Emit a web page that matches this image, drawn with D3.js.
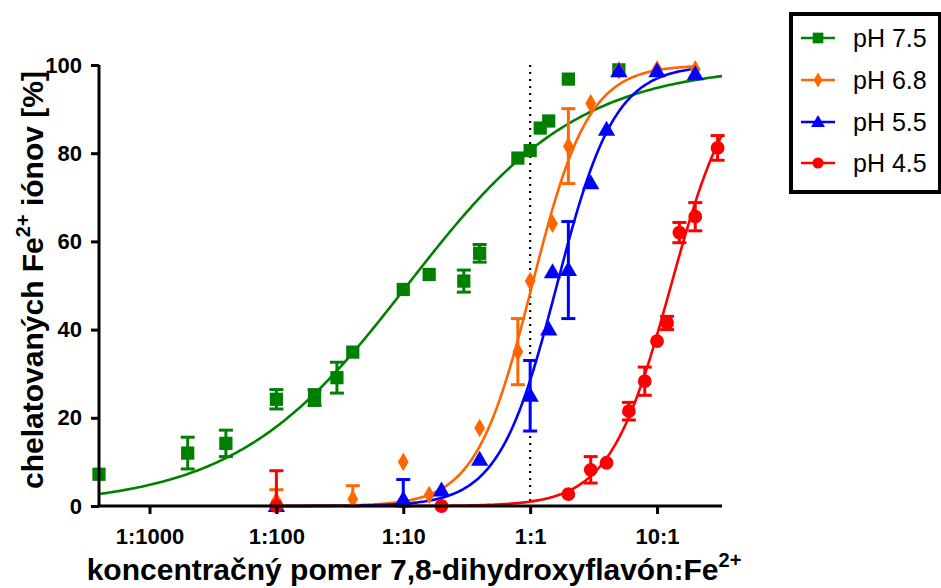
<!DOCTYPE html>
<html><head><meta charset="utf-8">
<script src="https://cdn.jsdelivr.net/npm/d3@7"></script>
<style>
html,body{margin:0;padding:0;background:#fff;}
svg{display:block;font-family:"Liberation Sans",Arial,sans-serif;}
</style></head>
<body>
<svg id="chart" width="941" height="588"></svg>
<script>
// ---- data ----
const seriesNames = ["pH 7.5", "pH 6.8", "pH 5.5", "pH 4.5"];
const seriesColors = ["#008000", "#FF6600", "#0000FF", "#FF0000"];
const seriesSymbols = ["square", "diamond", "triangle", "circle"];

// [ratio, mean %, error]
const ph75 = [
  [0.0004, 7.2, 0], [0.002, 12, 3.6], [0.004, 14.2, 3], [0.01, 24.2, 2.2],
  [0.02, 24.6, 1.8], [0.03, 29.1, 3.5], [0.04, 34.9, 0], [0.1, 49.1, 0],
  [0.16, 52.5, 0], [0.3, 51, 2.5], [0.4, 57.3, 2], [0.8, 78.9, 0],
  [1, 80.6, 0], [1.2, 85.7, 0], [1.4, 87.3, 0], [2, 96.8, 0], [5, 98.9, 0]
];
const ph68 = [
  [0.01, 1.2, 2.5], [0.04, 1.6, 3], [0.1, 10, 0], [0.16, 2.5, 0],
  [0.4, 17.7, 0], [0.8, 35, 7.5], [1, 51, 0], [1.5, 64, 0],
  [2, 81.6, 8.5], [3, 91.3, 0], [5, 98.8, 0], [10, 99, 0], [20, 99, 0]
];
const ph55 = [
  [0.01, 0, 0], [0.1, 1.5, 4.5], [0.2, 3.5, 0], [0.4, 10.5, 0],
  [1, 25, 8], [1.4, 40, 0], [1.5, 53, 0], [2, 53.5, 11],
  [3, 73.2, 0], [4, 85.3, 0], [5, 98.6, 0], [10, 98.6, 0], [20, 97.9, 0]
];
const ph45 = [
  [0.01, 0, 8], [0.2, 0, 0], [2, 2.7, 0], [3, 8.2, 3], [4, 9.8, 0],
  [6, 21.5, 2], [8, 28.3, 3.2], [10, 37.4, 0], [12, 41.5, 1.5],
  [15, 62, 2.3], [20, 65.6, 3.2], [30, 81.2, 2.8]
];
const seriesData = [ph75, ph68, ph55, ph45];

// fitted dose-response (Hill) parameters
const fitLogEC50 = [-0.97, 0.015, 0.21, 1.11];
const fitHill = [0.64, 1.95, 1.9, 1.8];
const fitBottom = [0, 0, 0, 0];
const fitTop = [100, 100, 100, 100];
const fitXStart = [0.0004, 0.01, 0.01, 0.01];
const fitXEnd = [32.5, 20, 20, 32.5];

const xTickValues = [0.001, 0.01, 0.1, 1, 10];
const xTickLabels = ["1:1000", "1:100", "1:10", "1:1", "10:1"];
const yTickValues = [0, 20, 40, 60, 80, 100];
const xDomain = [0.0004, 32.5];
const yDomain = [0, 100];
const refLineX = 1;

// ---- layout ----
const svg = d3.select("#chart");
const x = d3.scaleLog().domain(xDomain).range([99, 722]);
const y = d3.scaleLinear().domain(yDomain).range([506, 65]);

// reference dotted line
svg.append("line")
  .attr("x1", x(refLineX)).attr("x2", x(refLineX))
  .attr("y1", y(100)).attr("y2", y(0))
  .attr("stroke", "#000").attr("stroke-width", 2.2)
  .attr("stroke-dasharray", "2,5");

// curves
const line = d3.line().x(d => x(d[0])).y(d => y(d[1]));
seriesNames.forEach((name, i) => {
  const lo = Math.log10(fitXStart[i]), hi = Math.log10(fitXEnd[i]);
  const pts = d3.range(0, 301).map(k => {
    const lx = lo + (hi - lo) * k / 300;
    const v = fitBottom[i] + (fitTop[i] - fitBottom[i]) /
      (1 + Math.pow(10, (fitLogEC50[i] - lx) * fitHill[i]));
    return [Math.pow(10, lx), v];
  });
  svg.append("path").datum(pts)
    .attr("d", line).attr("fill", "none")
    .attr("stroke", seriesColors[i]).attr("stroke-width", 2.6);
});

// markers
function symbolPath(kind, size) {
  const map = {square: d3.symbolSquare, diamond: d3.symbolDiamond,
               triangle: d3.symbolTriangle, circle: d3.symbolCircle};
  return d3.symbol().type(map[kind]).size(size)();
}
const symSizes = {square: 175, diamond: 100, triangle: 130, circle: 150};

seriesData.forEach((data, i) => {
  const g = svg.append("g");
  const col = seriesColors[i];
  data.forEach(d => {
    if (d[2] > 0) {
      const xp = x(d[0]);
      const top = y(d[1] + d[2]);
      const bot = y(Math.max(0, d[1] - d[2]));
      g.append("line").attr("x1", xp).attr("x2", xp).attr("y1", top).attr("y2", bot)
        .attr("stroke", col).attr("stroke-width", 3);
      [top, bot].forEach(yy => {
        g.append("line").attr("x1", xp - 7).attr("x2", xp + 7).attr("y1", yy).attr("y2", yy)
          .attr("stroke", col).attr("stroke-width", 3);
      });
    }
  });
  const kind = seriesSymbols[i];
  g.selectAll("path.m").data(data).join("path")
    .attr("class", "m")
    .attr("d", symbolPath(kind, symSizes[kind]))
    .attr("transform", d => `translate(${x(d[0])},${y(d[1]) + (kind === "triangle" ? 1 : 0)})`)
    .attr("fill", col);
});

// axes
const xAxis = d3.axisBottom(x).tickValues(xTickValues)
  .tickFormat((d, i) => xTickLabels[i]).tickSize(8).tickSizeOuter(0).tickPadding(14);
const yAxis = d3.axisLeft(y).tickValues(yTickValues)
  .tickSize(8).tickSizeOuter(0).tickPadding(9);

const gx = svg.append("g").attr("transform", "translate(0,506)").call(xAxis);
const gy = svg.append("g").attr("transform", "translate(99,0)").call(yAxis);
[gx, gy].forEach(g => {
  g.select(".domain").attr("stroke", "#000").attr("stroke-width", 3);
  g.selectAll(".tick line").attr("stroke", "#000").attr("stroke-width", 3);
  g.selectAll(".tick text").attr("fill", "#000")
    .style("font-family", "'Liberation Sans', Arial, sans-serif")
    .style("font-weight", "bold").style("font-size", "22px");
});
gx.select(".domain").attr("d", "M99,0H722");
gy.select(".domain").attr("d", "M0,506V65");

// axis titles
const xt = svg.append("text").attr("x", 414).attr("y", 580)
  .attr("text-anchor", "middle")
  .style("font-weight", "bold").style("font-size", "30px").attr("fill", "#000");
xt.append("tspan").text("koncentračný pomer 7,8-dihydroxyflavón:Fe");
xt.append("tspan").attr("dy", -13).style("font-size", "20px").text("2+");

const yt = svg.append("text")
  .attr("transform", "translate(43,280) rotate(-90)")
  .attr("text-anchor", "middle")
  .style("font-weight", "bold").style("font-size", "30px").attr("fill", "#000");
yt.append("tspan").text("chelatovaných Fe");
yt.append("tspan").attr("dy", -13).style("font-size", "20px").text("2+");
yt.append("tspan").attr("dy", 13).text(" iónov [%]");

// legend
const lg = svg.append("g");
lg.append("rect").attr("x", 791).attr("y", 14).attr("width", 149).attr("height", 178)
  .attr("fill", "none").attr("stroke", "#000").attr("stroke-width", 4);
const rowY = [38, 80, 122, 163];
seriesNames.forEach((name, i) => {
  const yy = rowY[i];
  lg.append("line").attr("x1", 801).attr("x2", 835).attr("y1", yy).attr("y2", yy)
    .attr("stroke", seriesColors[i]).attr("stroke-width", 2.6);
  const kind = seriesSymbols[i];
  lg.append("path").attr("d", symbolPath(kind, symSizes[kind] * 0.65))
    .attr("transform", `translate(818,${yy + (kind === "triangle" ? 1 : 0)})`)
    .attr("fill", seriesColors[i]);
  lg.append("text").attr("x", 853).attr("y", yy).attr("dy", "0.36em")
    .style("font-size", "25px").attr("fill", "#000").text(name);
});
</script>
</body></html>
